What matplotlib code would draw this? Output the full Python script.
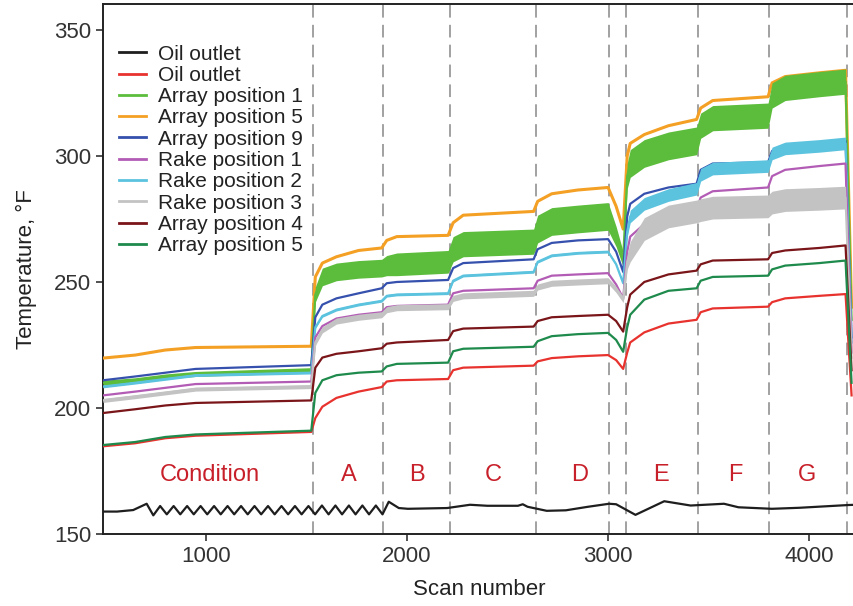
import matplotlib
matplotlib.use("Agg")
import matplotlib.pyplot as plt

plt.rcParams['font.family'] = ['Liberation Sans', 'DejaVu Sans']

# ---------------- data ----------------
SCAN = [490, 650, 800, 950, 1525, 1545, 1580, 1650, 1760, 1875, 1900, 1950,
        2205, 2230, 2280, 2630, 2650, 2720, 2850, 3000, 3040, 3075, 3095, 3110,
        3180, 3300, 3440, 3460, 3520, 3795, 3815, 3880, 4050, 4180, 4210]

orange_a5 = [219.8, 221, 223, 224, 224.5, 252, 257.5, 260, 262.5, 263.5, 266.5, 268,
             268.5, 273.5, 276.5, 278, 282, 285, 286.5, 287.5, 280, 271, 300, 305,
             308.5, 312, 314.5, 319, 322, 323.5, 329, 331.5, 333, 334, 240]
green_a1 = [210, 211, 212.5, 213.5, 215, 245, 252, 254, 255, 255.5, 256.5, 257,
            258, 263, 265, 266, 271, 274, 275, 276, 268, 259, 292, 297,
            301, 304, 306, 312, 315, 316, 324, 327, 328.5, 329.5, 235]
green_a1_spread = [1, 1, 1, 1, 1, 3, 3.5, 3.5, 3.5, 3.5, 4, 4.5,
                   4.5, 5, 5, 5, 5.5, 5.5, 5.5, 5.5, 4, 3, 5, 5.5,
                   5.5, 5.5, 5.5, 5, 5, 5, 5, 5, 5, 5, 1]
blue_a9 = [211, 212.5, 214, 215.5, 217, 236, 241, 243.5, 245.5, 247.5, 249.5, 250,
           250.8, 255.5, 257.5, 259, 263, 265.5, 266.5, 267, 262, 254, 276, 281,
           285, 287.5, 289, 294.5, 297, 297.5, 302, 304, 305, 306, 228]
cyan_r2 = [208.5, 210, 211.5, 213, 214, 232, 236.5, 239, 241, 242.5, 244.5, 245,
           245.5, 250.5, 252.5, 254, 258, 260.5, 261.5, 262, 257, 249.5, 270, 276,
           281, 284.5, 287, 292.5, 295, 296, 301, 303, 304, 305, 226]
cyan_r2_spread = [0.5] * 22 + [2, 2.5, 2.5, 2.5, 2.5, 2.5, 2.5, 2.5, 2.5, 2.5, 2.5, 2.5, 0.5]
magenta_r1 = [205, 206.5, 208, 209.5, 210.5, 228, 232.5, 235.5, 237, 238, 240, 240.5,
              241, 245.5, 246.5, 247.5, 250.5, 252.5, 253, 253.5, 249, 243.5, 262, 268,
              273, 277, 279, 283.5, 286, 287.5, 292, 294.5, 296, 297, 222]
gray_r3 = [203, 204.5, 206, 207.5, 208.5, 226, 231, 234.5, 236, 237, 239, 239.8,
           240.2, 243.5, 244.5, 245.5, 248, 249.5, 250, 250.5, 247, 243, 258, 262,
           271, 276, 278, 278.5, 279.5, 280, 281.5, 282.5, 283, 283.5, 220]
gray_r3_spread = [0.8] * 5 + [1.2] * 17 + [3, 4, 4.5, 4.5, 4.5, 4.5, 4.5, 4.5, 4.5, 4.5, 4.5, 4.5, 0.8]
maroon_a4 = [198, 199.5, 201, 202, 203, 216, 220, 221.5, 222.5, 223.7, 225.5, 226,
             227, 230.5, 231.5, 232.3, 234.5, 236, 236.5, 237, 234.5, 230.3, 240, 245,
             250, 253, 254.5, 257, 258.5, 259, 261.5, 262.5, 263.5, 264.5, 215]
dkgreen_a5 = [185.3, 186.5, 188.5, 189.5, 191, 206, 211, 213, 214, 214.5, 216.5, 217.5,
              218, 222.5, 223.5, 224.3, 226.5, 228.5, 229.3, 229.8, 227, 222.3, 232, 237,
              243, 246.5, 247.5, 250.5, 252, 252.5, 255, 256.5, 257.5, 258.5, 210]
red_oil = [184.8, 186, 188, 189, 190.5, 196, 200.5, 204, 206.5, 208.3, 210.5, 211,
           211.5, 215, 216, 216.8, 218.5, 219.8, 220.5, 221, 219, 215.5, 222, 226,
           230, 233.5, 235, 238, 239.5, 240.2, 242, 243.5, 244.5, 245.2, 205]

BLACK_SCAN = [490, 560, 640, 707, 740, 774, 807, 841, 874, 908, 941, 975, 1008,
              1042, 1075, 1109, 1142, 1176, 1209, 1243, 1276, 1310, 1343, 1377,
              1410, 1444, 1477, 1511, 1544, 1578, 1611, 1645, 1678, 1712, 1745,
              1779, 1812, 1846, 1879, 1910, 1960, 2005, 2200, 2314, 2400, 2552,
              2576, 2600, 2695, 2790, 2900, 3005, 3040, 3136, 3279, 3410, 3576,
              3648, 3814, 3950, 4195, 4230]
black_oil = [158.9, 158.9, 159.5, 162, 157.4, 161.1, 157.8, 161.1, 157.8, 161.1,
             157.8, 161.1, 157.8, 161.1, 157.8, 161.1, 157.8, 161.1, 157.8, 161.1,
             157.8, 161.1, 157.8, 161.1, 157.8, 161.1, 157.8, 161.1, 157.8, 161.3,
             157.8, 161.3, 157.8, 161.3, 157.8, 161.3, 157.8, 161.3, 157.8, 162.8,
             160.3, 160, 160.3, 161.6, 161.2, 161.2, 161.8, 160.8, 159.2, 159.4,
             160.8, 162, 161.8, 157.6, 163, 161.3, 162, 160.6, 160, 160.4, 161.5, 161.6]

BOUNDARIES = [1532, 1880, 2212, 2640, 3005, 3088, 3445, 3800, 4185]
COND_LABELS = ["Condition", "A", "B", "C", "D", "E", "F", "G"]
COND_LABEL_X = [1020, 1710, 2050, 2430, 2860, 3265, 3630, 3990]

LEGEND_LABELS = ["Oil outlet", "Oil outlet", "Array position 1", "Array position 5",
                 "Array position 9", "Rake position 1", "Rake position 2",
                 "Rake position 3", "Array position 4", "Array position 5"]

# ---------------- figure ----------------
fig = plt.figure(figsize=(8.54, 6.06), dpi=100)
ax = fig.add_axes([103 / 854, 72 / 606, 753 / 854, 530 / 606])

C = {
    'black': '#1e1e1e', 'red': '#e8322e', 'green': '#5cbd3c', 'orange': '#f4a024',
    'blue': '#3551ad', 'magenta': '#b35cb5', 'cyan': '#5cc3df', 'gray': '#c3c3c3',
    'maroon': '#7a1519', 'dkgreen': '#1e8a4c',
}
lw = 1.6

def band(y, s):
    lo = [a - b for a, b in zip(y, s)]
    hi = [a + b for a, b in zip(y, s)]
    return lo, hi

h = {}
h['orange'], = ax.plot(SCAN, orange_a5, color=C['orange'], lw=2.2, zorder=3)
lo, hi = band(green_a1, green_a1_spread)
ax.fill_between(SCAN, lo, hi, color=C['green'], lw=0, zorder=3.1)
h['green'], = ax.plot(SCAN, green_a1, color=C['green'], lw=lw, zorder=3.1)
h['blue'], = ax.plot(SCAN, blue_a9, color=C['blue'], lw=lw, zorder=3.2)
lo, hi = band(cyan_r2, cyan_r2_spread)
ax.fill_between(SCAN, lo, hi, color=C['cyan'], lw=0, zorder=3.3)
h['cyan'], = ax.plot(SCAN, cyan_r2, color=C['cyan'], lw=lw, zorder=3.3)
h['magenta'], = ax.plot(SCAN, magenta_r1, color=C['magenta'], lw=lw, zorder=3.4)
lo, hi = band(gray_r3, gray_r3_spread)
ax.fill_between(SCAN, lo, hi, color=C['gray'], lw=0, zorder=3.5)
h['gray'], = ax.plot(SCAN, gray_r3, color=C['gray'], lw=lw, zorder=3.5)
h['maroon'], = ax.plot(SCAN, maroon_a4, color=C['maroon'], lw=lw, zorder=3.6)
h['red'], = ax.plot(SCAN, red_oil, color=C['red'], lw=lw, zorder=3.65)
h['dkgreen'], = ax.plot(SCAN, dkgreen_a5, color=C['dkgreen'], lw=lw, zorder=3.7)
h['black'], = ax.plot(BLACK_SCAN, black_oil, color=C['black'], lw=lw, zorder=3.8)

for b in BOUNDARIES:
    ax.axvline(b, color='#9a9a9a', lw=1.3, ls=(0, (7, 4)), zorder=2)

for lab, xx in zip(COND_LABELS, COND_LABEL_X):
    ax.text(xx, 173.5, lab, color='#c8202a', fontsize=17, ha='center', va='center')

ax.set_xlim(490, 4232)
ax.set_ylim(150, 360.3)
ax.set_xticks([1000, 2000, 3000, 4000])
ax.set_yticks([150, 200, 250, 300, 350])
ax.tick_params(axis='both', labelsize=16, colors='#333333', length=5, width=1.2,
               direction='out')
for sp in ['left', 'bottom', 'top', 'right']:
    ax.spines[sp].set_color('#222222')
    ax.spines[sp].set_linewidth(1.4)
ax.set_xlabel("Scan number", fontsize=16, color='#222222', labelpad=9)
ax.set_ylabel("Temperature, °F", fontsize=16, color='#222222', labelpad=12)

order = ['black', 'red', 'green', 'orange', 'blue', 'magenta', 'cyan', 'gray', 'maroon', 'dkgreen']
leg = ax.legend([h[k] for k in order], LEGEND_LABELS, loc='upper left',
                bbox_to_anchor=(0.005, 0.947), frameon=False, fontsize=15,
                handlelength=1.3, handletextpad=0.55, labelspacing=0.11,
                borderaxespad=0.2)
for t in leg.get_texts():
    t.set_color('#222222')
for l in leg.get_lines():
    l.set_linewidth(2)

fig.savefig("out.png", dpi=100)
